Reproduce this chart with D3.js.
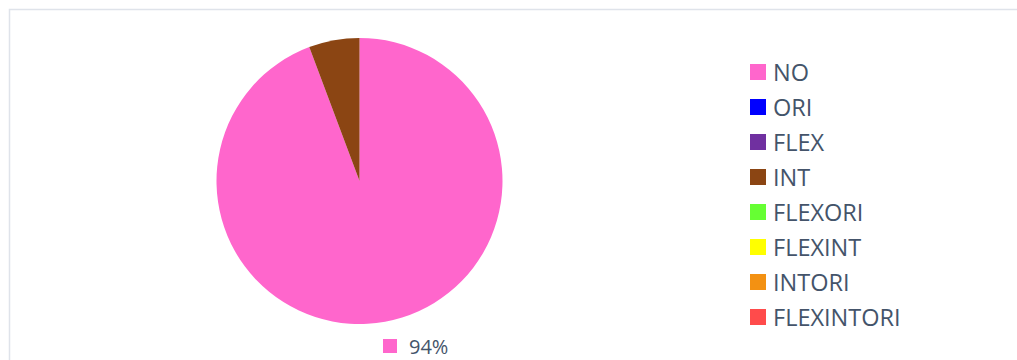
<!DOCTYPE html>
<html><head><meta charset="utf-8">
<script src="https://cdn.jsdelivr.net/npm/d3@7"></script>
<style>html,body{margin:0;padding:0;background:#fff;overflow:hidden}</style>
</head><body>
<svg id="c" width="1017" height="360"></svg>
<script>
const categories = ["NO","ORI","FLEX","INT","FLEXORI","FLEXINT","INTORI","FLEXINTORI"];
const values = [33,0,0,2,0,0,0,0];
const colors = ["#FF66CC","#0000FF","#7030A0","#8B4513","#66FF33","#FFFF00","#F39112","#FF4B4B"];
const shownLabels = ["94%"];

const svg = d3.select("#c");
svg.append("path").attr("d","M9.5,360V9.5H1017").attr("fill","none").attr("stroke","#dfe3ea").attr("stroke-width",1.5);

const color = d3.scaleOrdinal().domain(categories).range(colors);
const pie = d3.pie().sort(null).value(d=>d.v);
const data = categories.map((c,i)=>({c, v:values[i]}));
const arcs = pie(data);
const arc = d3.arc().innerRadius(0).outerRadius(143);
const g = svg.append("g").attr("transform","translate(359.5,181)");
g.selectAll("path").data(arcs.filter(a=>a.data.v>0)).join("path")
  .attr("d",arc).attr("fill",d=>color(d.data.c));

// data label below pie
const lab = svg.append("g").attr("transform","translate(383,339)");
lab.append("rect").attr("width",14).attr("height",14).attr("fill",color(categories[0]));
lab.append("text").attr("x",26).attr("y",14.5).text(shownLabels[0])
  .attr("font-family","Open Sans").attr("font-size",20).attr("fill","#44546A");

// legend
const y = d3.scalePoint().domain(categories).range([72,317]);
const lg = svg.append("g");
const items = lg.selectAll("g").data(categories).join("g").attr("transform",d=>`translate(750,${y(d)})`);
items.append("rect").attr("y",-8).attr("width",16).attr("height",16).attr("fill",d=>color(d));
items.append("text").attr("x",23).attr("y",8.7).text(d=>d)
  .attr("font-family","Open Sans").attr("font-size",23.5).attr("fill","#44546A");
</script>
</body></html>
